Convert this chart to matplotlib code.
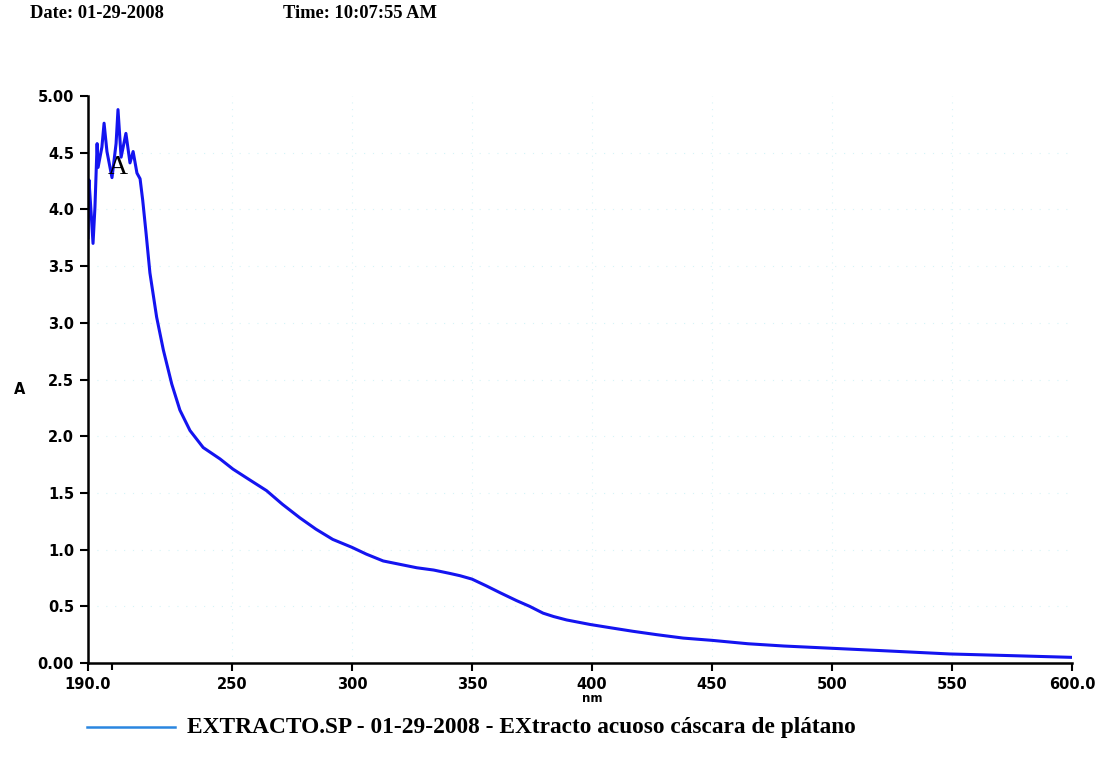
#import libraries
import matplotlib
matplotlib.use('Agg')
import matplotlib.pyplot as plt
from matplotlib.ticker import FixedLocator, FixedFormatter

#spectrum (nm, absorbance)
wavelength = [190.0, 190.4, 191.3, 192.1, 192.9, 193.8, 194.2, 195.8, 196.7, 197.9,
              200.0, 201.7, 202.5, 203.8, 205.8, 207.5, 208.8, 210.4, 211.7, 212.8,
              214.2, 215.8, 218.6, 221.4, 224.9, 228.3, 232.5, 238.0, 245.0, 250.4,
              257.0, 264.4, 271.0, 278.3, 285.0, 292.0, 300.0, 306.0, 313.0, 320.0,
              327.0, 334.0, 340.8, 345.0, 350.0, 356.0, 361.7, 368.6, 374.0, 379.6,
              384.0, 389.4, 399.2, 408.0, 417.0, 427.0, 438.0, 450.0, 465.0, 480.0,
              500.0, 520.0, 549.0, 575.0, 600.0]
absorbance = [3.75, 4.26, 3.97, 3.70, 4.02, 4.58, 4.37, 4.55, 4.76, 4.51,
              4.28, 4.58, 4.88, 4.46, 4.67, 4.41, 4.51, 4.32, 4.27, 4.08,
              3.79, 3.44, 3.05, 2.76, 2.46, 2.23, 2.05, 1.90, 1.80, 1.71,
              1.62, 1.52, 1.40, 1.28, 1.18, 1.09, 1.02, 0.96, 0.90, 0.87,
              0.84, 0.82, 0.79, 0.77, 0.74, 0.68, 0.62, 0.55, 0.50, 0.44,
              0.41, 0.38, 0.34, 0.31, 0.28, 0.25, 0.22, 0.20, 0.17, 0.15,
              0.13, 0.11, 0.08, 0.065, 0.05]

#tick positions and labels
x_ticks = [190, 250, 300, 350, 400, 450, 500, 550, 600]
x_labels = ['190.0', '250', '300', '350', '400', '450', '500', '550', '600.0']
y_ticks = [0, 0.5, 1.0, 1.5, 2.0, 2.5, 3.0, 3.5, 4.0, 4.5, 5.0]
y_labels = ['0.00', '0.5', '1.0', '1.5', '2.0', '2.5', '3.0', '3.5', '4.0', '4.5', '5.00']

legend_text = 'EXTRACTO.SP - 01-29-2008 - EXtracto acuoso cáscara de plátano'
date_text = 'Date: 01-29-2008'
time_text = 'Time: 10:07:55 AM'

serif = 'Liberation Serif'
sans = 'DejaVu Sans'

fig = plt.figure(figsize=(11.11, 7.69), dpi=100)
ax = fig.add_axes([0.0792, 0.1378, 0.8857, 0.7374])

#faint dotted grid like the printout
for xv in x_ticks[1:-1]:
    ax.axvline(xv, color='#d6f4f8', lw=0.8, ls=(0, (1, 5)), zorder=0)
for yv in y_ticks[1:-1]:
    ax.axhline(yv, color='#d6f4f8', lw=0.8, ls=(0, (1, 7)), zorder=0)

ax.plot(wavelength, absorbance, color='#1414f0', lw=2.2, solid_joinstyle='round')

ax.set_xlim(190, 600)
ax.set_ylim(0, 5)
ax.spines['top'].set_visible(False)
ax.spines['right'].set_visible(False)
ax.spines['left'].set_linewidth(1.8)
ax.spines['bottom'].set_linewidth(1.8)

ax.xaxis.set_major_locator(FixedLocator(x_ticks))
ax.xaxis.set_major_formatter(FixedFormatter(x_labels))
ax.xaxis.set_minor_locator(FixedLocator([200]))
ax.yaxis.set_major_locator(FixedLocator(y_ticks))
ax.yaxis.set_major_formatter(FixedFormatter(y_labels))
ax.tick_params(axis='both', which='major', direction='out', length=6, width=1.5, pad=4)
ax.tick_params(axis='x', which='minor', direction='out', length=5, width=1.5)
for lab in ax.get_xticklabels() + ax.get_yticklabels():
    lab.set_fontfamily(sans)
    lab.set_fontweight('bold')
    lab.set_fontsize(10.5)

#axis labels
fig.text(0.018, 0.493, 'A', fontfamily=sans, fontweight='bold', fontsize=10.5, ha='center', va='center')
ax.text(400, -0.31, 'nm', fontfamily=sans, fontweight='bold', fontsize=8.5, ha='center', va='center')

#peak marker from the instrument
ax.text(202.5, 4.37, 'A', fontfamily=serif, fontsize=20, ha='center', va='center')

#header
fig.text(0.027, 0.982, date_text, fontfamily=serif, fontweight='bold', fontsize=13.3, ha='left', va='center')
fig.text(0.255, 0.982, time_text, fontfamily=serif, fontweight='bold', fontsize=13.3, ha='left', va='center')

#legend drawn under the axis
fig.lines.append(plt.Line2D([87 / 1111, 175 / 1111], [1 - 727 / 769] * 2,
                            transform=fig.transFigure, color='#2a86e0', lw=1.8))
fig.text(187 / 1111, 1 - 727 / 769, legend_text, fontfamily=serif, fontweight='bold',
         fontsize=16.8, ha='left', va='center')

fig.savefig('out.png', dpi=100, facecolor='white')
